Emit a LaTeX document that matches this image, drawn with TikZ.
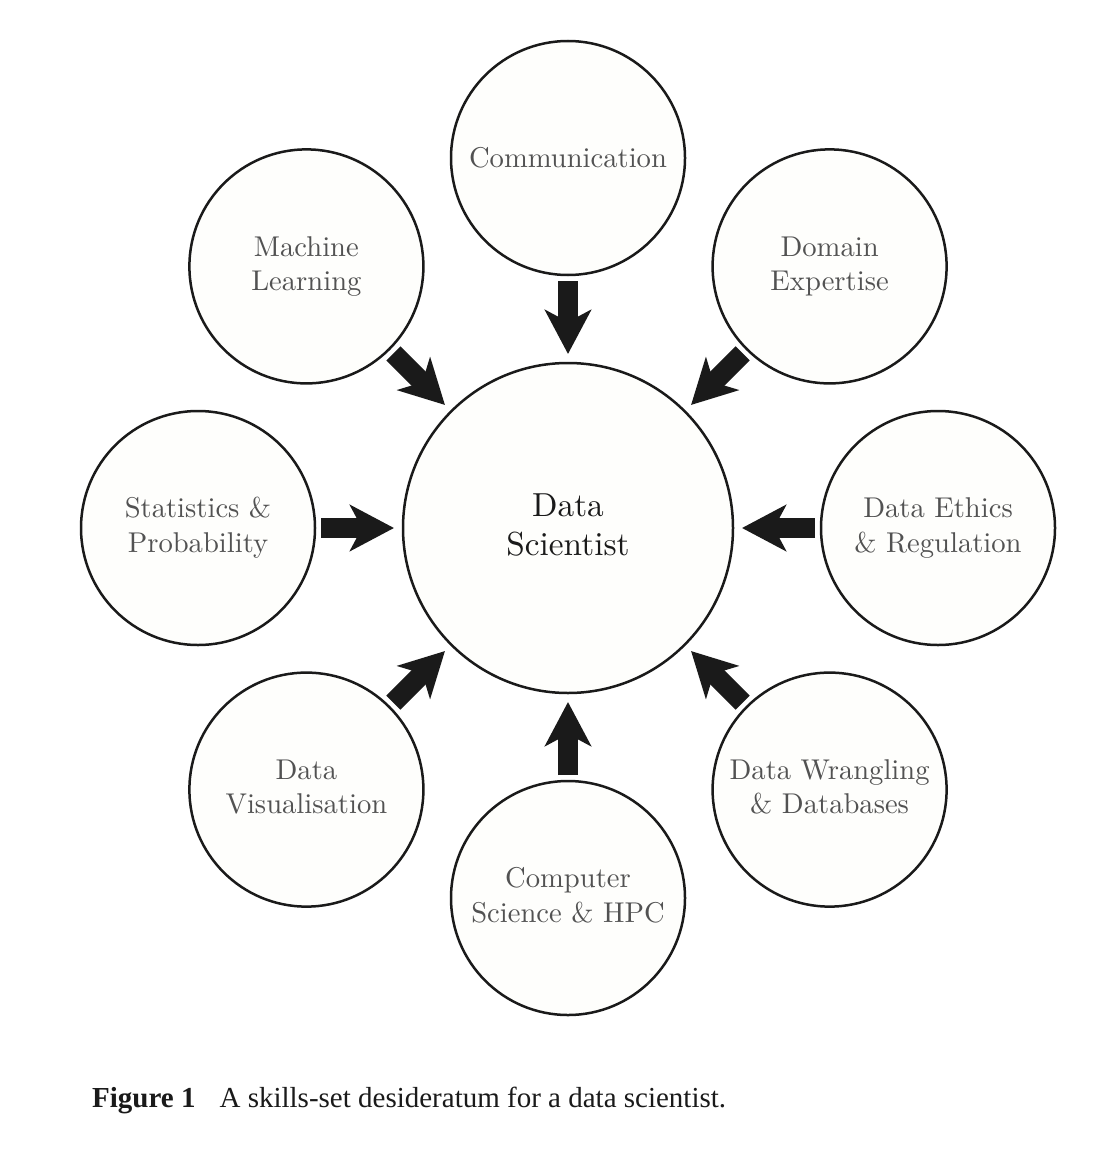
\documentclass[tikz,border=0pt]{standalone}
\usepackage{fontspec}
\newfontfamily\capfont{Liberation Serif}
\usetikzlibrary{arrows.meta}
\definecolor{ink}{RGB}{26,26,26}
\definecolor{skillgrey}{RGB}{82,82,82}
\definecolor{paper}{RGB}{254,254,252}
\newcommand{\skilltxt}[2]{\scalebox{2.86}{\begin{tabular}{@{}c@{}}#1\\#2\end{tabular}}}
\begin{document}
\begin{tikzpicture}[x=1pt,y=-1pt,
  skill/.style={circle, draw=ink, line width=2.5pt, fill=paper, minimum size=234pt,
    inner sep=0pt, outer sep=0pt, text=skillgrey, align=center},
  hub/.style={skill, minimum size=330pt, text=ink},
  feed/.style={draw=ink, line width=20pt,
    -{Stealth[length=44pt, width=46pt, inset=12pt]},
    shorten <=6pt, shorten >=9pt}
]
\fill[white] (0,0) rectangle (1112,1172);
\useasboundingbox (0,0) rectangle (1112,1172);

\node[hub] (ds) at (568,528) {\scalebox{3.33}{\begin{tabular}{@{}c@{}}Data\\Scientist\end{tabular}}};

\node[skill] (comm) at (568,158) {\scalebox{2.86}{Communication}};
\node[skill] (dom) at (829.6,266.4) {\skilltxt{Domain}{Expertise}};
\node[skill] (eth) at (938,528) {\skilltxt{Data Ethics}{\& Regulation}};
\node[skill] (wra) at (829.6,789.6) {\skilltxt{Data Wrangling}{\& Databases}};
\node[skill] (cs) at (568,898) {\skilltxt{Computer}{Science \& HPC}};
\node[skill] (vis) at (306.4,789.6) {\skilltxt{Data}{Visualisation}};
\node[skill] (sta) at (198,528) {\skilltxt{Statistics \&}{Probability}};
\node[skill] (ml) at (306.4,266.4) {\skilltxt{Machine}{Learning}};

\foreach \s in {comm,dom,eth,wra,cs,vis,sta,ml}
  \draw[feed] (\s) -- (ds);

\node[anchor=base west, font=\capfont\fontsize{29}{34}\selectfont, text=ink, inner sep=0pt]
  (cap) at (92,1107) {\textbf{Figure 1}\hspace{24pt}A skills-set desideratum for a data scientist.};
\end{tikzpicture}
\end{document}
